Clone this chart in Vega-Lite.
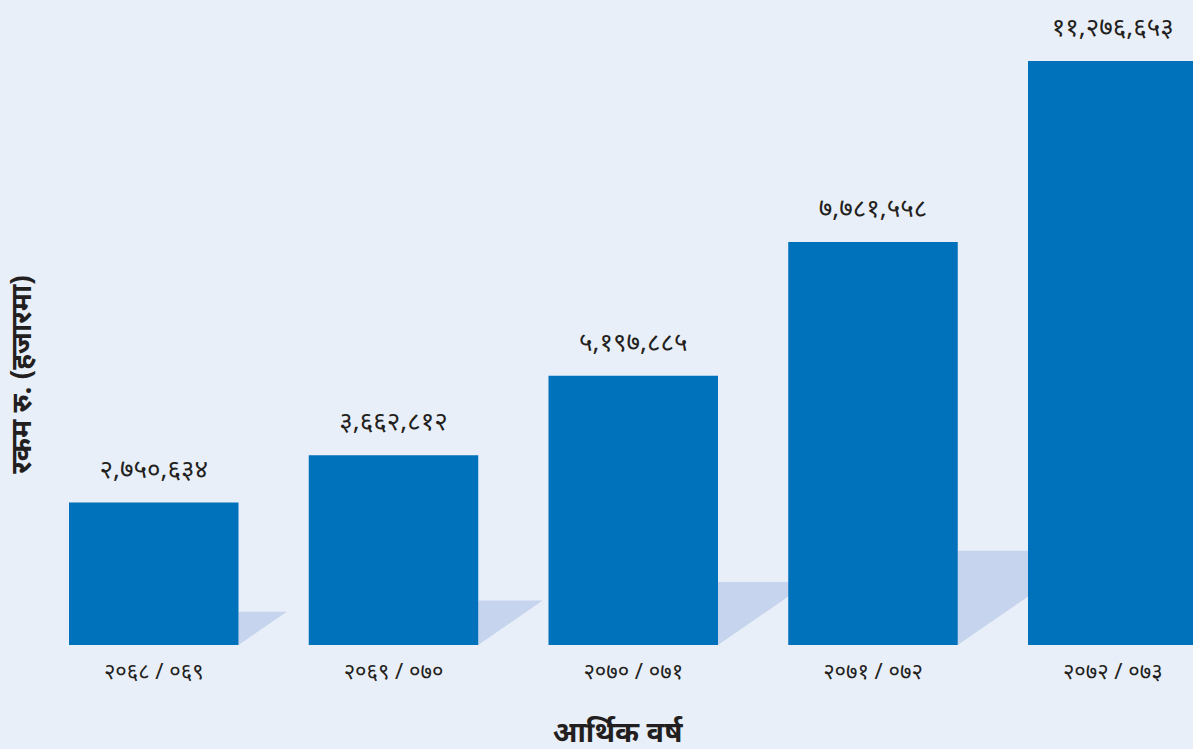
{
  "$schema": "https://vega.github.io/schema/vega-lite/v6.json",
  "autosize": "none",
  "width": 1153,
  "height": 620,
  "padding": {"left": 40, "top": 25, "right": 0, "bottom": 104},
  "background": "#e9eff8",
  "config": {"view": {"stroke": null}, "font": "Noto Sans"},
  "data": {"values": [
    {"year": "२०६८ / ०६९", "value": 2750634, "label": "२,७५०,६३४"},
    {"year": "२०६९ / ०७०", "value": 3662812, "label": "३,६६२,८१२"},
    {"year": "२०७० / ०७१", "value": 5197885, "label": "५,१९७,८८५"},
    {"year": "२०७१ / ०७२", "value": 7781558, "label": "७,७८१,५५८"},
    {"year": "२०७२ / ०७३", "value": 11276653, "label": "११,२७६,६५३"}
  ]},
  "encoding": {
    "x": {
      "field": "year", "type": "nominal", "sort": null,
      "scale": {"range": [29, 1157.5], "paddingInner": 0.293, "paddingOuter": 0},
      "axis": {
        "title": "आर्थिक वर्ष", "titleFontSize": 29, "titleFontWeight": "bold", "titleColor": "#231f20",
        "titleY": 96, "titleBaseline": "alphabetic", "titleX": 577, "titleAnchor": "middle",
        "labelAngle": 0, "labelFontSize": 22, "labelColor": "#231f20", "labelPadding": 16,
        "ticks": false, "domain": false, "grid": false
      }
    }
  },
  "layer": [
    {
      "mark": {"type": "point", "filled": true, "shape": "M0,0 L0,-1 L1.45,-1 Z", "color": "#c6d4ed", "opacity": 1, "strokeWidth": 0, "xOffset": 84.75},
      "encoding": {
        "y": {"datum": 0, "type": "quantitative"},
        "size": {"field": "value", "type": "quantitative", "scale": {"type": "pow", "exponent": 2, "domain": [0, 11276653], "range": [0, 74750]}, "legend": null}
      }
    },
    {
      "mark": {"type": "bar", "color": "#0071bb"},
      "encoding": {
        "y": {
          "field": "value", "type": "quantitative",
          "scale": {"domain": [0, 11972000], "nice": false},
          "axis": {
            "title": "रकम रु. (हजारमा)", "titleFontSize": 28, "titleFontWeight": "bold", "titleColor": "#231f20",
            "titleY": 349, "titleX": -18, "titleBaseline": "middle", "titleAngle": -90,
            "labels": false, "ticks": false, "domain": false, "grid": false
          }
        }
      }
    },
    {
      "mark": {"type": "text", "dy": -25, "baseline": "alphabetic", "fontSize": 26, "color": "#231f20"},
      "encoding": {
        "y": {"field": "value", "type": "quantitative"},
        "text": {"field": "label"}
      }
    }
  ]
}
